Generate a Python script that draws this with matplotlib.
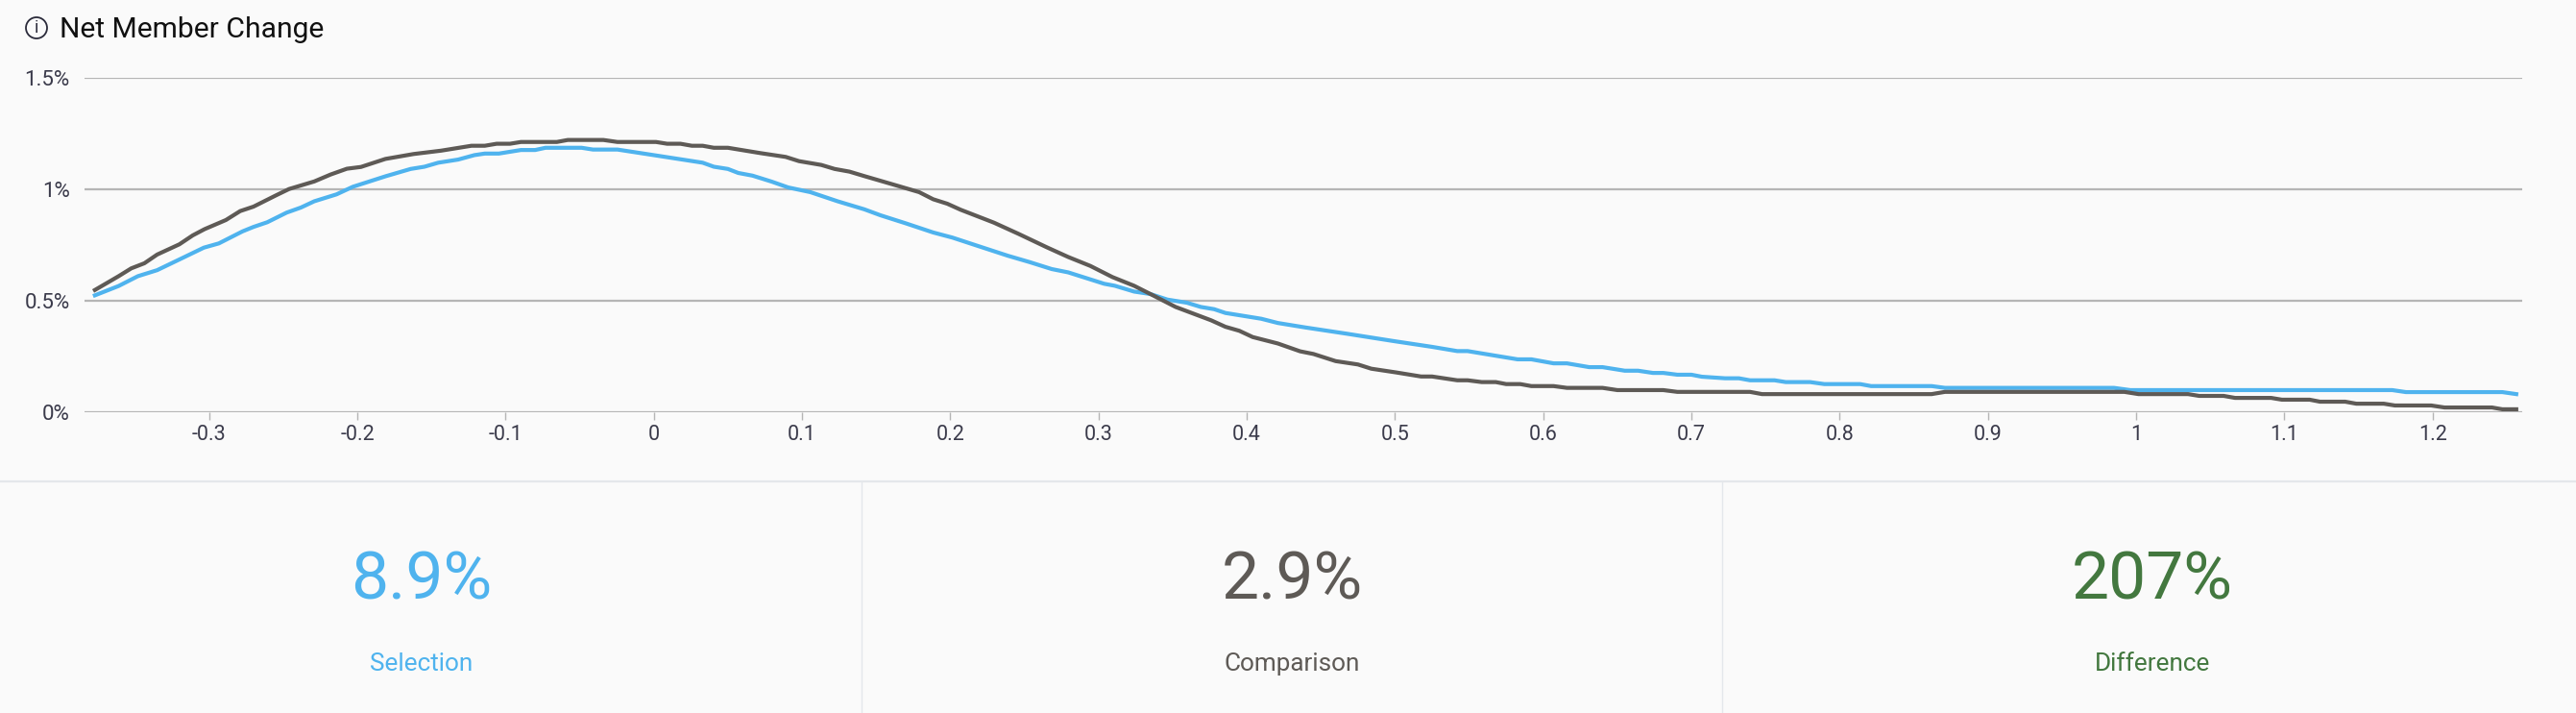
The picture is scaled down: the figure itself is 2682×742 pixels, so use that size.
import matplotlib
matplotlib.use("Agg")
import matplotlib.pyplot as plt
from matplotlib.patches import Circle

plt.rcParams["font.family"] = ["Roboto", "DejaVu Sans"]

title = "Net Member Change"
y_ticks = [0, 0.5, 1, 1.5]
y_labels = ["0%", "0.5%", "1%", "1.5%"]
x_ticks = [-0.3, -0.2, -0.1, 0, 0.1, 0.2, 0.3, 0.4, 0.5, 0.6, 0.7, 0.8, 0.9, 1, 1.1, 1.2]
x_labels = ["-0.3", "-0.2", "-0.1", "0", "0.1", "0.2", "0.3", "0.4", "0.5", "0.6", "0.7", "0.8", "0.9", "1", "1.1", "1.2"]

comparison_x = [-.377,-.361,-.3525,-.3436,-.335,-.320,-.311,-.303,-.2886,-.279,-.270,-.255,-.246,-.229,-.218,-.207,-.1975,-.181,-.162,-.1435,-.123,-.114,-.106,-.097,-.0896,-.0654,-.058,-.034,-.0245,.0015,.009,.018,.0257,.033,.0405,.05,.072,.089,.098,.113,.122,.132,.142,.1606,.179,.1885,.198,.207,.2295,.246,.265,.2796,.2945,.3094,.324,.335,.352,.376,.3856,.395,.404,.421,.436,.445,.460,.475,.484,.501,.5176,.525,.542,.549,.5585,.568,.575,.5845,.592,.607,.616,.640,.650,.681,.6905,.7395,.7476,.862,.871,.992,1.0016,1.035,1.0425,1.059,1.0667,1.091,1.0983,1.117,1.124,1.141,1.1485,1.167,1.1745,1.199,1.208,1.240,1.247,1.2564]
comparison_y = [.547,.609,.644,.667,.706,.752,.792,.820,.861,.901,.921,.971,1.0,1.034,1.065,1.091,1.099,1.135,1.157,1.172,1.194,1.194,1.203,1.203,1.211,1.211,1.220,1.220,1.211,1.211,1.203,1.203,1.194,1.194,1.185,1.185,1.161,1.144,1.125,1.108,1.09,1.078,1.058,1.022,.986,.954,.934,.907,.849,.799,.739,.695,.655,.605,.566,.529,.471,.411,.382,.364,.336,.307,.272,.260,.228,.213,.194,.177,.159,.159,.142,.142,.134,.134,.125,.125,.116,.116,.108,.108,.098,.098,.09,.09,.08,.08,.09,.09,.08,.08,.072,.072,.063,.063,.055,.055,.046,.046,.037,.037,.029,.029,.02,.02,.012,.012]

selection_x = [-.377,-.361,-.348,-.335,-.320,-.3035,-.2934,-.2774,-.270,-.2607,-.2477,-.238,-.229,-.214,-.203,-.181,-.164,-.1547,-.1454,-.132,-.121,-.114,-.1045,-.0896,-.080,-.073,-.0487,-.041,-.0245,0,.033,.0405,.05,.057,.0666,.0796,.0907,.1056,.124,.142,.153,.170,.1885,.2015,.218,.2387,.2536,.2684,.2796,.3038,.311,.324,.335,.3465,.3596,.369,.378,.3856,.4098,.421,.4395,.4674,.499,.525,.542,.549,.5827,.592,.607,.616,.631,.640,.655,.664,.674,.681,.6905,.700,.707,.7227,.732,.7395,.756,.7636,.780,.7896,.8138,.8212,.862,.871,.985,.996,1.1727,1.182,1.247,1.2564]
selection_y = [.523,.565,.609,.636,.684,.737,.756,.810,.830,.851,.894,.917,.945,.976,1.010,1.057,1.090,1.10,1.118,1.132,1.152,1.159,1.159,1.175,1.175,1.185,1.185,1.177,1.177,1.152,1.118,1.10,1.09,1.072,1.06,1.033,1.007,.986,.945,.909,.882,.846,.805,.782,.746,.701,.672,.641,.626,.575,.566,.540,.529,.504,.490,.471,.461,.444,.418,.399,.379,.351,.318,.292,.273,.273,.236,.236,.218,.218,.201,.201,.185,.185,.175,.175,.167,.167,.158,.151,.151,.142,.142,.134,.134,.125,.125,.116,.116,.108,.108,.098,.098,.089,.089,.08]

stat_values = ["8.9%", "2.9%", "207%"]
stat_labels = ["Selection", "Comparison", "Difference"]

BG = "#fafafa"
BLUE = "#4fb3ee"
GRAY = "#5e5a56"
GREEN = "#43783f"
GRID = "#b5b5b5"
INK = "#3b3b4b"
W, H = 2682, 742

fig = plt.figure(figsize=(W / 100, H / 100), dpi=100, facecolor=BG)

overlay = fig.add_axes([0, 0, 1, 1], zorder=0)
overlay.set_xlim(0, W)
overlay.set_ylim(H, 0)
overlay.axis("off")
overlay.plot([0, W], [500.5, 500.5], color="#e4e7eb", lw=1.6)
for vx in (897, 1793):
    overlay.plot([vx, vx], [501, H], color="#e4e7eb", lw=1.0)
overlay.add_patch(Circle((38, 29), 11, fill=False, ec="#2b2b3b", lw=1.3))
overlay.text(38, 29.5, "i", ha="center", va="center", fontsize=13, color="#2b2b3b")
overlay.text(62, 39, title, ha="left", va="baseline", fontsize=21.6, color="#111111")

for cx, val, lab, col in zip((439, 1345, 2241), stat_values, stat_labels, (BLUE, GRAY, GREEN)):
    overlay.text(cx, 624, val, ha="center", va="baseline", fontsize=50, color=col)
    overlay.text(cx, 698, lab, ha="center", va="baseline", fontsize=18.8, color=col)

left, right, top, bottom = 88, 2626, 80.7, 428.7
ax = fig.add_axes([left / W, 1 - bottom / H, (right - left) / W, (bottom - top) / H], zorder=1)
ax.patch.set_alpha(0)
ax.set_xlim(-0.384, 1.2604)
ax.set_ylim(0, 1.5)
for s in ax.spines.values():
    s.set_visible(False)
ax.set_yticks(y_ticks, y_labels)
ax.set_xticks(x_ticks, x_labels)
ax.grid(axis="y", color=GRID, lw=1.6, zorder=1)
ax.set_axisbelow(True)
ax.tick_params(axis="y", length=0, pad=11, labelsize=16, labelcolor=INK)
ax.tick_params(axis="x", length=6, width=1, color=GRID, pad=3.5, labelsize=15.5, labelcolor=INK)
ax.plot(comparison_x, comparison_y, color=GRAY, lw=3, clip_on=False, zorder=3, solid_joinstyle="round")
ax.plot(selection_x, selection_y, color=BLUE, lw=3, clip_on=False, zorder=2, solid_joinstyle="round")

fig.savefig("out.png", dpi=100, facecolor=BG)
